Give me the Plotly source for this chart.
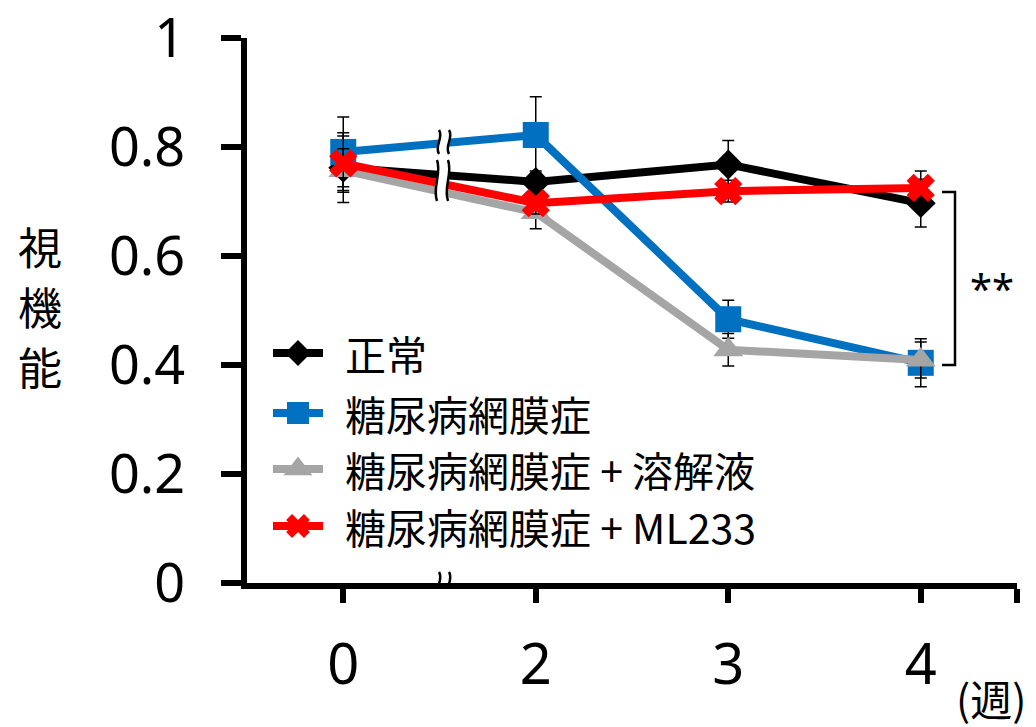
import plotly.graph_objects as go

# ---------------- data ----------------
weeks = ["0", "2", "3", "4"]
series_names = ["正常", "糖尿病網膜症", "糖尿病網膜症 + 溶解液", "糖尿病網膜症 + ML233"]
normal = [0.762, 0.736, 0.768, 0.697]
dr = [0.791, 0.822, 0.484, 0.404]
dr_vehicle = [0.757, 0.680, 0.428, 0.409]
dr_ml233 = [0.770, 0.697, 0.719, 0.725]
normal_err = [0.064, 0.020, 0.044, 0.044]
dr_err = [0.064, 0.070, 0.035, 0.044]
vehicle_err = [0.040, 0.030, 0.030, 0.033]
ml233_err = [0.050, 0.020, 0.020, 0.031]
y_ticks = [0, 0.2, 0.4, 0.6, 0.8, 1]
y_ticktext = ["0", "0.2", "0.4", "0.6", "0.8", "1"]
y_title = ["視", "機", "能"]
x_unit = "(週)"
sig_text = "**"

# ---------------- styles ----------------
colors = ["#000000", "#0070C0", "#A5A5A5", "#FF0000"]
symbols = ["diamond", "square", "triangle-up", "x"]
msizes = [23, 26, 26, 25]
leg_msizes = [20, 22, 25, 21]
values = [normal, dr, dr_vehicle, dr_ml233]
errors = [normal_err, dr_err, vehicle_err, ml233_err]

W, H = 1036, 727
L, R, T, B = 247, 1017, 38, 583


def px(x):
    return (x - L) / (R - L)


def py(y):
    return (B - y) / (B - T)


fig = go.Figure()
xpos = list(range(len(weeks)))
for name, vals, err, c, s, ms in zip(series_names, values, errors, colors, symbols, msizes):
    fig.add_trace(go.Scatter(
        x=xpos, y=vals, name=name, mode="lines+markers",
        line=dict(color=c, width=8),
        marker=dict(symbol=s, size=ms, color=c, line=dict(width=0)),
        error_y=dict(type="data", array=err, color="black", thickness=1.5, width=6),
        showlegend=False, xaxis="x", yaxis="y",
    ))

# ---------- manual legend on a pixel overlay axis ----------
FONT_CJK = "Noto Sans CJK JP"
leg_rows = [353, 413, 469, 526]
annotations = []
for name, c, s, ms, ry in zip(series_names, colors, symbols, leg_msizes, leg_rows):
    fig.add_trace(go.Scatter(x=[273, 323], y=[ry, ry], mode="lines",
                             line=dict(color=c, width=8), showlegend=False,
                             xaxis="x2", yaxis="y2", hoverinfo="skip"))
    fig.add_trace(go.Scatter(x=[298], y=[ry], mode="markers",
                             marker=dict(symbol=s, size=ms, color=c, line=dict(width=0)),
                             showlegend=False, xaxis="x2", yaxis="y2", hoverinfo="skip"))
    annotations.append(dict(x=px(343), y=py(ry), xref="paper", yref="paper", text=name,
                            showarrow=False, xanchor="left", yanchor="middle",
                            font=dict(family=FONT_CJK, size=41, color="black")))

# y-axis title (vertical, stacked characters)
for ch, yy in zip(y_title, [246, 306, 366]):
    annotations.append(dict(x=px(40), y=py(yy), xref="paper", yref="paper", text=ch,
                            showarrow=False, xanchor="center", yanchor="middle",
                            font=dict(family=FONT_CJK, size=44, color="black")))
# x unit
annotations.append(dict(x=px(991), y=py(697), xref="paper", yref="paper", text=x_unit,
                        showarrow=False, xanchor="center", yanchor="middle",
                        font=dict(family=FONT_CJK, size=42, color="black")))
# significance
annotations.append(dict(x=px(992), y=py(287), xref="paper", yref="paper", text=sig_text,
                        showarrow=False, xanchor="center", yanchor="middle",
                        font=dict(family="Noto Sans", size=40, color="black")))

shapes = []
# significance bracket
shapes.append(dict(type="path", xref="x2", yref="y2",
                   path="M942,192 L955,192 L955,365 L942,365",
                   line=dict(color="black", width=2.5)))


def squiggle(x, y0, y1, a=5):
    h = y1 - y0
    return f"M{x},{y0} C{x + a},{y0 + h * 0.33} {x - a},{y0 + h * 0.67} {x},{y1}"


def gap(x1, x2, y0, y1, a=5):
    h = y1 - y0
    return (f"M{x1},{y0} C{x1 + a},{y0 + h * 0.33} {x1 - a},{y0 + h * 0.67} {x1},{y1} "
            f"L{x2},{y1} C{x2 - a},{y0 + h * 0.67} {x2 + a},{y0 + h * 0.33} {x2},{y0} Z")


breaks = [(439, 449, 130, 154), (437, 448, 160, 201), (439, 449, 572, 596)]
for x1, x2, y0, y1 in breaks:
    shapes.append(dict(type="path", xref="x2", yref="y2", path=gap(x1, x2, y0, y1),
                       fillcolor="white", line=dict(width=0), layer="above"))
    shapes.append(dict(type="path", xref="x2", yref="y2", path=squiggle(x1, y0, y1),
                       line=dict(color="black", width=2.5), layer="above"))
    shapes.append(dict(type="path", xref="x2", yref="y2", path=squiggle(x2, y0, y1),
                       line=dict(color="black", width=2.5), layer="above"))

fig.update_layout(
    template="none",
    width=W, height=H,
    margin=dict(l=L, r=W - R, t=T, b=H - B, pad=0, autoexpand=False),
    paper_bgcolor="white", plot_bgcolor="white",
    showlegend=False,
    xaxis=dict(range=[-0.5, 3.5], tickmode="array",
               tickvals=xpos + [3.5], ticktext=weeks + [""],
               showgrid=False, zeroline=False, showline=True, linecolor="black", linewidth=6,
               ticks="outside", ticklen=14, tickwidth=6, tickcolor="black",
               ticklabelstandoff=14, automargin=False, ticklabeloverflow="allow",
               tickfont=dict(family="Noto Sans", size=56, color="black"), fixedrange=True),
    yaxis=dict(range=[0, 1], tickmode="array", tickvals=y_ticks, ticktext=y_ticktext,
               showgrid=False, zeroline=False, showline=True, linecolor="black", linewidth=6,
               ticks="outside", ticklen=20, tickwidth=6, tickcolor="black",
               ticklabelstandoff=25, automargin=False, ticklabeloverflow="allow",
               tickfont=dict(family="Noto Sans", size=54, color="black"), fixedrange=True),
    xaxis2=dict(range=[L, R], overlaying="x", anchor="y2", visible=False, fixedrange=True),
    yaxis2=dict(range=[B, T], overlaying="y", anchor="x2", visible=False, fixedrange=True),
    annotations=annotations,
    shapes=shapes,
)

fig.write_html("out.html", config={"displayModeBar": False},
               post_script="document.body.style.margin='0';")
